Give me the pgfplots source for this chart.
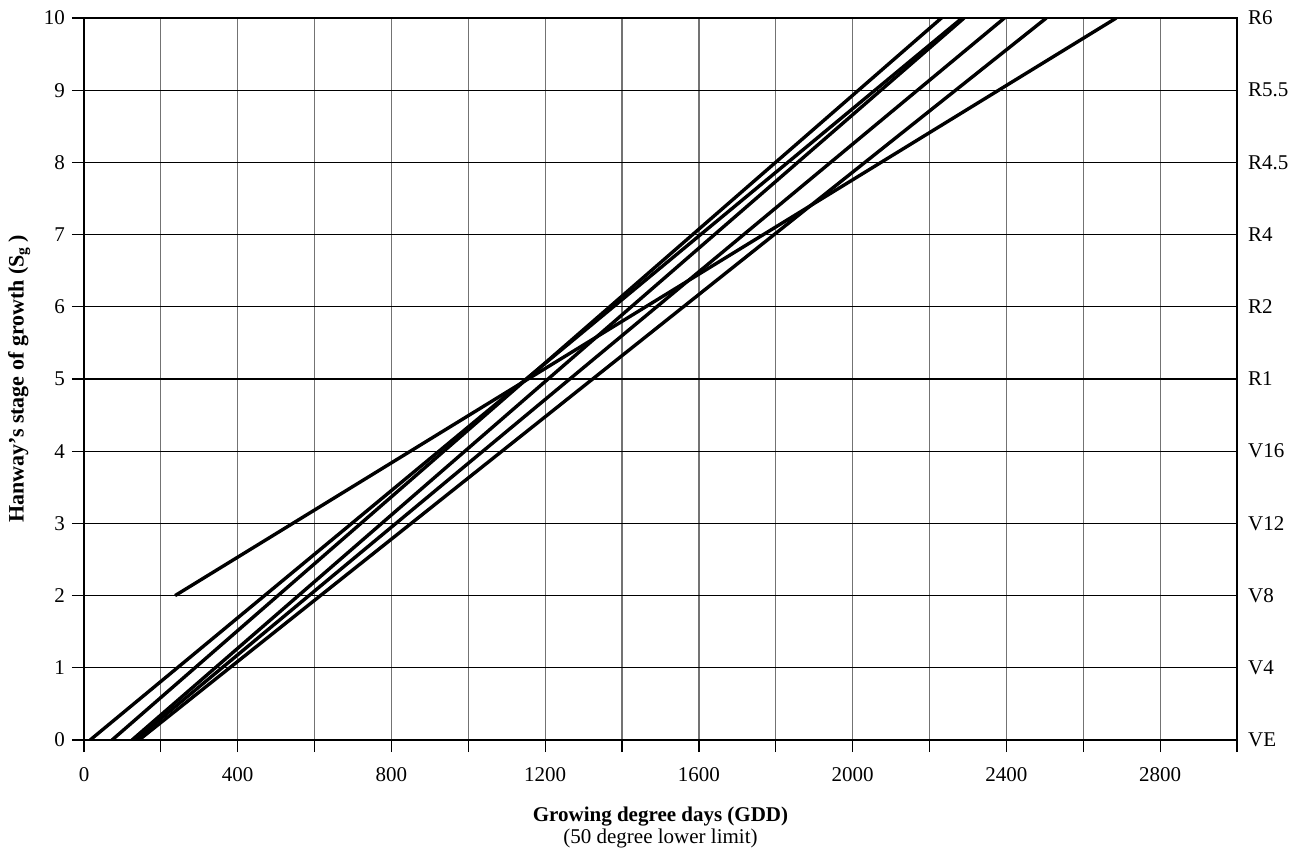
\documentclass[border=0pt]{standalone}
\usepackage{pgfplots}
\pgfplotsset{compat=1.18}
\usepackage{fontspec}
\setmainfont{Liberation Serif}
\begin{document}
\begin{tikzpicture}
\pgfplotsset{
  common/.style={
    scale only axis, width=576.5pt, height=361pt,
    xmin=0, xmax=3000, ymin=0, ymax=10,
    /pgf/number format/assume math mode=true,
    tick label style={font=\fontsize{10.5}{12}\selectfont},
  }
}
\begin{axis}[
  common,
  xtick={0,400,...,2800},
  minor xtick={200,600,...,3000},
  ytick={0,...,10},
  xtick pos=left, ytick pos=left,
  tick align=outside,
  major tick length=6pt, minor tick length=6pt,
  tick style={black, line width=0.6pt},
  x tick label style={yshift=-4pt},
  /pgf/number format/1000 sep={},
  grid=both,
  x grid style={black!55, line width=0.6pt},
  minor x grid style={black!55, line width=0.6pt},
  y grid style={black, line width=0.6pt},
  axis line style={black, line width=1.1pt},
  xlabel={\textbf{Growing degree days (GDD)}\\(50 degree lower limit)},
  xlabel style={align=center, font=\fontsize{10.5}{11}\selectfont, yshift=-6pt},
  ylabel={\textbf{Hanway's stage of growth (S\textsubscript{g}\,)}},
  ylabel style={font=\fontsize{11}{12}\selectfont, yshift=0pt},
]
\addplot[black, line width=1.7pt] coordinates {(16,0) (2285,10)};
\addplot[black, line width=1.7pt] coordinates {(73,0) (2231,10)};
\addplot[black, line width=1.7pt] coordinates {(125,0) (2290,10)};
\addplot[black, line width=1.7pt] coordinates {(133,0) (2395,10)};
\addplot[black, line width=1.7pt] coordinates {(143,0) (2504,10)};
\addplot[black, line width=1.7pt] coordinates {(237,2) (2686,10)};
\end{axis}
\begin{axis}[
  common,
  axis x line=none,
  axis y line*=right,
  axis line style={draw=none},
  ytick={0,...,10},
  yticklabels={VE,V4,V8,V12,V16,R1,R2,R4,R4.5,R5.5,R6},
  ytick style={draw=none},
  y tick label style={xshift=2pt},
]
\end{axis}
\path (current axis.south west) ++(-42pt,-57.5pt) coordinate (bbA);
\path (current axis.north east) ++(30.5pt,9pt) coordinate (bbB);
\path[use as bounding box] (bbA) rectangle (bbB);
\end{tikzpicture}
\end{document}
